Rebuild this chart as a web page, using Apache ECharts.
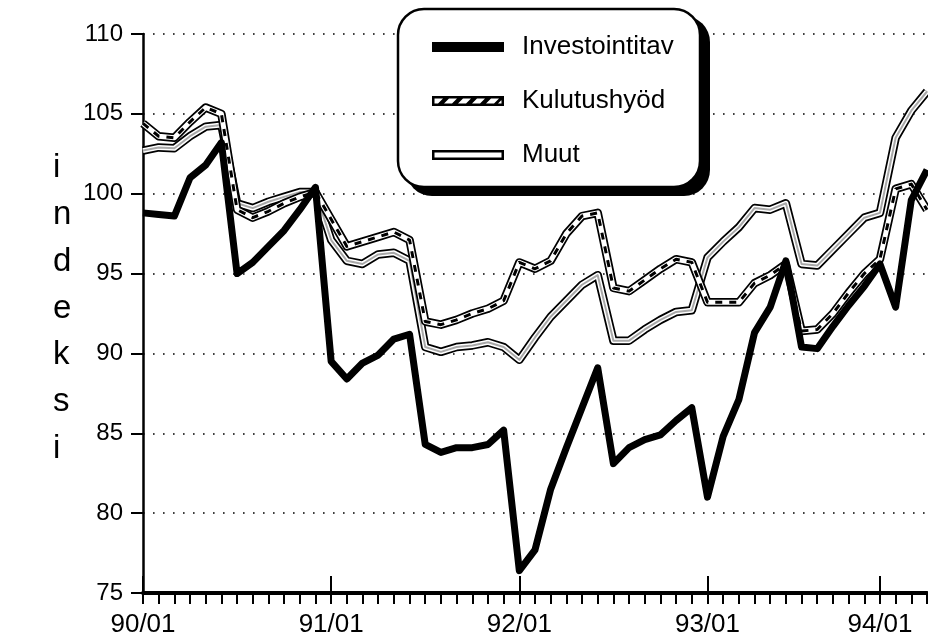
<!DOCTYPE html>
<html>
<head>
<meta charset="utf-8">
<script src="https://cdn.jsdelivr.net/npm/echarts@6/dist/echarts.min.js"></script>
<style>
html,body{margin:0;padding:0;background:#fff;}
#chart{width:928px;height:638px;}
</style>
</head>
<body>
<div id="chart"></div>
<script>
// Month categories (as laid out on the original axis)
const months = [
  "90/01","90/02","90/03","90/04","90/05","90/06","90/07","90/08","90/09","90/10","90/11","90/12",
  "91/01","91/02","91/03","91/04","91/05","91/06","91/07","91/08","91/09","91/10","91/11","91/12",
  "92/01","92/02","92/03","92/04","92/05","92/06","92/07","92/08","92/09","92/10","92/11","92/12",
  "93/01","93/02","93/03","93/04","93/05","93/06","93/07","93/08","93/09","93/10","93/11",
  "94/01","94/02","94/03","94/04"
];
const seriesNames = ["Investointitav", "Kulutushyöd", "Muut"];
const investointitav = [
  98.8, 98.7, 98.6, 101.0, 101.8, 103.2, 95.0, 95.7, 96.7, 97.7, 99.0, 100.4,
  89.5, 88.4, 89.4, 89.9, 90.9, 91.2, 84.3, 83.8, 84.1, 84.1, 84.3, 85.2,
  76.4, 77.7, 81.5, 84.1, 86.6, 89.1, 83.1, 84.1, 84.6, 84.9, 85.8, 86.6,
  81.0, 84.8, 87.1, 91.3, 92.9, 95.8, 90.4, 90.3, 91.7, 93.0, 94.2,
  95.6, 92.9, 99.6, 101.5
];
const kulutushyod = [
  104.4, 103.6, 103.5, 104.5, 105.4, 105.0, 99.0, 98.5, 98.9, 99.4, 99.8, 100.1,
  98.4, 96.7, 97.0, 97.3, 97.6, 97.1, 92.0, 91.8, 92.1, 92.5, 92.8, 93.3,
  95.7, 95.3, 95.8, 97.5, 98.6, 98.8, 94.1, 93.9, 94.6, 95.3, 95.9, 95.7,
  93.2, 93.2, 93.2, 94.4, 94.9, 95.6, 91.4, 91.5, 92.5, 93.8, 95.0,
  95.9, 100.3, 100.6, 99.0
];
const muut = [
  102.7, 102.9, 102.85, 103.6, 104.2, 104.3, 99.4, 99.1, 99.5, 99.8, 100.1, 100.1,
  97.1, 95.8, 95.6, 96.2, 96.3, 95.8, 90.4, 90.1, 90.4, 90.5, 90.7, 90.4,
  89.6, 91.0, 92.3, 93.3, 94.3, 94.9, 90.8, 90.8, 91.5, 92.1, 92.6, 92.7,
  96.0, 97.0, 97.9, 99.1, 99.0, 99.4, 95.6, 95.5, 96.5, 97.5, 98.5,
  98.8, 103.5, 105.2, 106.4
];
const yTicks = {min: 75, max: 110, step: 5};

const FONT = "Liberation Sans";
const chart = echarts.init(document.getElementById('chart'), null, {renderer: 'canvas'});

const isYear = (idx) => months[idx] && months[idx].endsWith('/01');

function layer(name, data, color, width, extra) {
  return Object.assign({
    name: name, type: 'line', data: data, symbol: 'none', silent: true,
    animation: false, xAxisIndex: 0, yAxisIndex: 0,
    lineStyle: {color: color, width: width, join: 'round', cap: 'butt'},
    itemStyle: {color: color}
  }, extra || {});
}

const option = {
  animation: false,
  backgroundColor: '#fff',
  grid: {left: 143, right: 1, top: 34, bottom: 45, containLabel: false},
  xAxis: [{
    type: 'category', data: months, boundaryGap: false, position: 'bottom',
    axisLine: {show: true, lineStyle: {color: '#000', width: 4}},
    axisTick: {show: true, interval: 0, length: 11, inside: false, lineStyle: {color: '#000', width: 2}},
    axisLabel: {interval: (idx) => isYear(idx), margin: 19, color: '#000', fontFamily: FONT, fontSize: 26},
    splitLine: {show: false}
  }, {
    type: 'category', data: months, boundaryGap: false, position: 'bottom',
    axisLine: {show: false},
    axisTick: {show: true, interval: (idx) => isYear(idx), length: 17, inside: true, lineStyle: {color: '#000', width: 2}},
    axisLabel: {show: false},
    splitLine: {show: false}
  }],
  yAxis: {
    type: 'value', min: yTicks.min, max: yTicks.max, interval: yTicks.step,
    axisLine: {show: true, lineStyle: {color: '#000', width: 2.5}},
    axisTick: {show: true, length: 12, lineStyle: {color: '#000', width: 2}},
    axisLabel: {margin: 20, color: '#000', fontFamily: FONT, fontSize: 24},
    splitLine: {show: true, lineStyle: {color: '#000', width: 1.6, type: [1.6, 8.4]}}
  },
  legend: {
    orient: 'vertical', left: 397, top: 8, z: 20,
    padding: [24, 27, 17, 35],
    itemGap: 24, itemWidth: 72, itemHeight: 10,
    selectedMode: false,
    textStyle: {color: '#000', fontFamily: FONT, fontSize: 26, lineHeight: 30, padding: [0, 0, 0, 13]},
    data: [
      {name: seriesNames[0], icon: 'rect', itemStyle: {color: '#000', borderWidth: 0}},
      {name: seriesNames[1], icon: 'path://M0,0L72,0L72,10L0,10Z M2.5,2.5L2.5,7.5L69.5,7.5L69.5,2.5Z M6,7.5L12,7.5L17,2.5L11,2.5Z M20,7.5L26,7.5L31,2.5L25,2.5Z M34,7.5L40,7.5L45,2.5L39,2.5Z M48,7.5L54,7.5L59,2.5L53,2.5Z M62,7.5L66,7.5L69.5,4L69.5,2.5L67,2.5Z', itemStyle: {color: '#000', borderWidth: 0}},
      {name: seriesNames[2], icon: 'path://M0,0L72,0L72,10L0,10Z M2.5,2.5L2.5,7.5L69.5,7.5L69.5,2.5Z', itemStyle: {color: '#000', borderWidth: 0}}
    ]
  },
  graphic: [
    {type: 'rect', z: 10, shape: {x: 406, y: 16, width: 304, height: 180, r: 26}, style: {fill: '#000'}},
    {type: 'rect', z: 11, shape: {x: 398, y: 9, width: 302, height: 178, r: 26}, style: {fill: '#fff', stroke: '#000', lineWidth: 2.5}},
    {type: 'text', left: 53, top: 145, z: 10,
     style: {text: 'i\nn\nd\ne\nk\ns\ni', font: '33px "Liberation Sans"', fill: '#000', lineHeight: 46.7, align: 'center', width: 30}}
  ],
  series: [
    layer(seriesNames[2], muut, '#000', 8.5, {z: 2}),
    layer('Muut_body', muut, '#fff', 5, {z: 2}),
    layer('Muut_core', muut, '#a8a8a8', 2, {z: 2}),
    layer(seriesNames[1], kulutushyod, '#000', 8.5, {z: 3}),
    layer('Kul_body', kulutushyod, '#fff', 5, {z: 3}),
    layer('Kul_dash', kulutushyod, '#000', 3, {z: 3, lineStyle: {color: '#000', width: 3, type: [7, 7], join: 'round'}}),
    layer(seriesNames[0], investointitav, '#000', 7, {z: 4})
  ]
};
chart.setOption(option);
</script>
</body>
</html>
